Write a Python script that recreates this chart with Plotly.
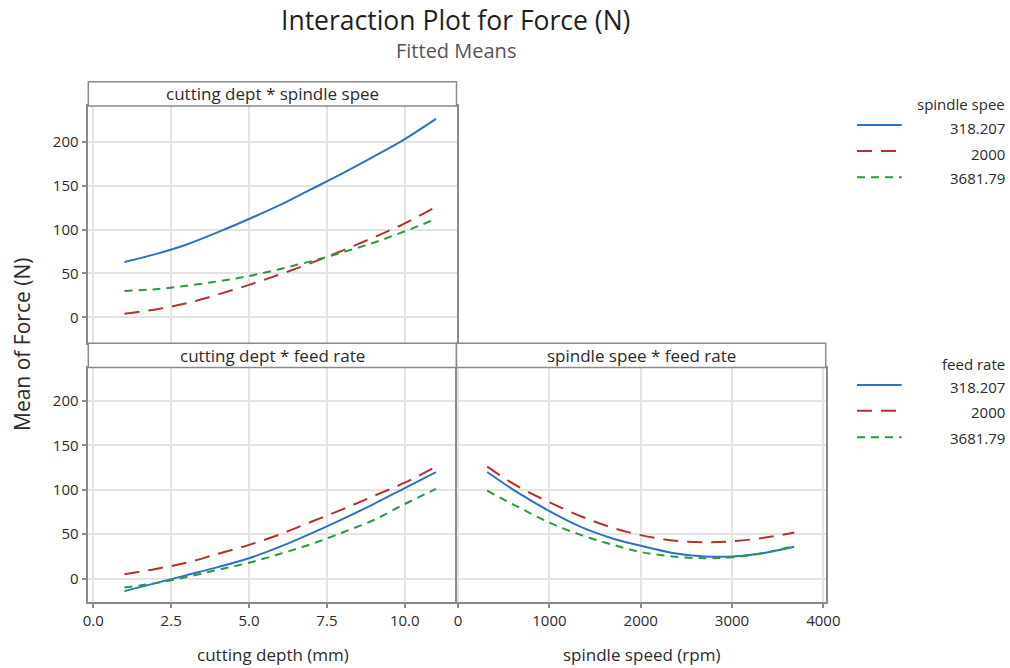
import plotly.graph_objects as go

# ---------------- data ----------------
depth = [1, 2, 3, 4, 5, 6, 7, 8, 9, 10, 11]
speed = [318.207, 650, 1000, 1350, 1700, 2000, 2350, 2700, 3000, 3350, 3681.79]
levels = ["318.207", "2000", "3681.79"]

# cutting depth * spindle speed (top-left)
ds_318 = [63, 72, 83, 97, 112, 128, 146, 164, 183, 203, 226]
ds_2000 = [4, 9, 16, 26, 37, 49, 62, 76, 91, 107, 126]
ds_3682 = [30, 32, 36, 41, 47, 55, 64, 74, 85, 98, 112]

# cutting depth * feed rate (bottom-left)
df_318 = [-14, -5, 4, 13, 23, 36, 51, 67, 84, 102, 120]
df_2000 = [5, 11, 18, 28, 38, 50, 64, 78, 93, 108, 126]
df_3682 = [-10, -5, 2, 10, 18, 28, 39, 52, 66, 84, 101]

# spindle speed * feed rate (bottom-right)
sf_318 = [120, 97, 76, 58, 45, 37, 29, 25, 25, 29, 36]
sf_2000 = [126, 104, 86, 70, 57, 49, 43, 41, 42, 46, 52]
sf_3682 = [99, 81, 63, 49, 38, 30, 25, 23, 24, 29, 37]

depth_ticks = [0.0, 2.5, 5.0, 7.5, 10.0]
speed_ticks = [0, 1000, 2000, 3000, 4000]
force_ticks = [0, 50, 100, 150, 200]

# ---------------- styles ----------------
W, H = 1010, 668
FONT = "Open Sans"
TXT = "#2b2b2b"
COLORS = ["#2e72c2", "#b5302e", "#2a9a3a"]
DASHES = ["solid", "15px,9px", "8px,6px"]
FRAME = "#8a8a8a"
GRID = "#e4e4e4"


def px(x):
    return x / W


def py(y):
    return 1 - y / H


fig = go.Figure()

panels = [
    ("x", "y", depth, [ds_318, ds_2000, ds_3682], "spindle spee"),
    ("x2", "y2", depth, [df_318, df_2000, df_3682], "feed rate"),
    ("x3", "y3", speed, [sf_318, sf_2000, sf_3682], "feed rate"),
]
for xa, ya, xs, series, grp in panels:
    for lev, ys, c, d in zip(levels, series, COLORS, DASHES):
        fig.add_trace(go.Scatter(
            x=xs, y=ys, xaxis=xa, yaxis=ya, mode="lines",
            name=f"{grp} = {lev}", showlegend=False,
            line=dict(color=c, width=2, dash=d, shape="spline"),
        ))

# panel geometry (pixels)
L, MID, R = 88.3, 456.5, 825.7
T_HDR_TOP, T_TOP, T_BOT = 81.7, 106.0, 343.3
B_TOP, B_BOT = 367.5, 601.7


def axis(**kw):
    base = dict(
        showgrid=True, gridcolor=GRID, gridwidth=1.5, zeroline=False,
        showline=True, linecolor=FRAME, linewidth=1.5, mirror=True,
        ticks="outside", ticklen=5, tickcolor=FRAME, tickwidth=1.5,
        tickfont=dict(family=FONT, size=15, color=TXT), automargin=False,
    )
    base.update(kw)
    return base


fig.update_layout(
    xaxis=axis(domain=[px(L), px(MID)], range=[-0.16, 11.66], anchor="y",
               tickvals=depth_ticks, showticklabels=False, ticks=""),
    yaxis=axis(domain=[py(T_BOT), py(T_TOP)], range=[-29.6, 240.7], anchor="x",
               tickvals=force_ticks),
    xaxis2=axis(domain=[px(L), px(MID)], range=[-0.16, 11.66], anchor="y2",
                tickvals=depth_ticks, ticktext=[f"{v:.1f}" for v in depth_ticks]),
    yaxis2=axis(domain=[py(B_BOT), py(B_TOP)], range=[-25.9, 237.6], anchor="x2",
                tickvals=force_ticks),
    xaxis3=axis(domain=[px(MID), px(R)], range=[-18, 4026], anchor="y3",
                tickvals=speed_ticks),
    yaxis3=axis(domain=[py(B_BOT), py(B_TOP)], range=[-25.9, 237.6], anchor="x3",
                tickvals=force_ticks, showticklabels=False, ticks=""),
)

shapes = []
annotations = []


def header(x0, x1, y0, y1, text):
    shapes.append(dict(type="rect", xref="paper", yref="paper",
                       x0=px(x0), x1=px(x1), y0=py(y1), y1=py(y0),
                       line=dict(color=FRAME, width=1.5), fillcolor="white"))
    annotations.append(dict(xref="paper", yref="paper", x=px((x0 + x1) / 2), y=py((y0 + y1) / 2),
                            text=text, showarrow=False, xanchor="center", yanchor="middle",
                            font=dict(family=FONT, size=17, color=TXT)))


header(L, MID, T_HDR_TOP, T_TOP, "cutting dept * spindle spee")
header(L, MID, T_BOT, B_TOP, "cutting dept * feed rate")
header(MID, R, T_BOT, B_TOP, "spindle spee * feed rate")

annotations += [
    dict(xref="paper", yref="paper", x=px(455), y=py(19.5), text="Interaction Plot for Force (N)",
         showarrow=False, xanchor="center", yanchor="middle",
         font=dict(family=FONT, size=26.5, color="#1f1f1f")),
    dict(xref="paper", yref="paper", x=px(456), y=py(51), text="Fitted Means",
         showarrow=False, xanchor="center", yanchor="middle",
         font=dict(family=FONT, size=20, color="#555555")),
    dict(xref="paper", yref="paper", x=px(22), y=py(345), text="Mean of Force (N)",
         showarrow=False, xanchor="center", yanchor="middle", textangle=-90,
         font=dict(family=FONT, size=21, color=TXT)),
    dict(xref="paper", yref="paper", x=px(273), y=py(654.5), text="cutting depth (mm)",
         showarrow=False, xanchor="center", yanchor="middle",
         font=dict(family=FONT, size=17, color=TXT)),
    dict(xref="paper", yref="paper", x=px(641), y=py(654.5), text="spindle speed (rpm)",
         showarrow=False, xanchor="center", yanchor="middle",
         font=dict(family=FONT, size=17, color=TXT)),
]


def legend(title, title_y, line_ys, text_ys):
    annotations.append(dict(xref="paper", yref="paper", x=px(1007), y=py(title_y), text=title,
                            showarrow=False, xanchor="right", yanchor="middle",
                            font=dict(family=FONT, size=15, color=TXT)))
    for lev, c, d, ly, ty in zip(levels, COLORS, DASHES, line_ys, text_ys):
        shapes.append(dict(type="line", xref="paper", yref="paper",
                           x0=px(857), x1=px(901.7), y0=py(ly), y1=py(ly),
                           line=dict(color=c, width=2, dash=d)))
        annotations.append(dict(xref="paper", yref="paper", x=px(1007), y=py(ty), text=lev,
                                showarrow=False, xanchor="right", yanchor="middle",
                                font=dict(family=FONT, size=15, color=TXT)))


legend("spindle spee", 104, [125, 151, 177.3], [128, 153.5, 178])
legend("feed rate", 364, [385, 410.7, 437.3], [387, 412, 438])

fig.update_layout(
    width=W, height=H, margin=dict(l=0, r=0, t=0, b=0, autoexpand=False),
    paper_bgcolor="white", plot_bgcolor="white",
    shapes=shapes, annotations=annotations, showlegend=False,
    font=dict(family=FONT, color=TXT),
)

fig.write_html("out.html")
